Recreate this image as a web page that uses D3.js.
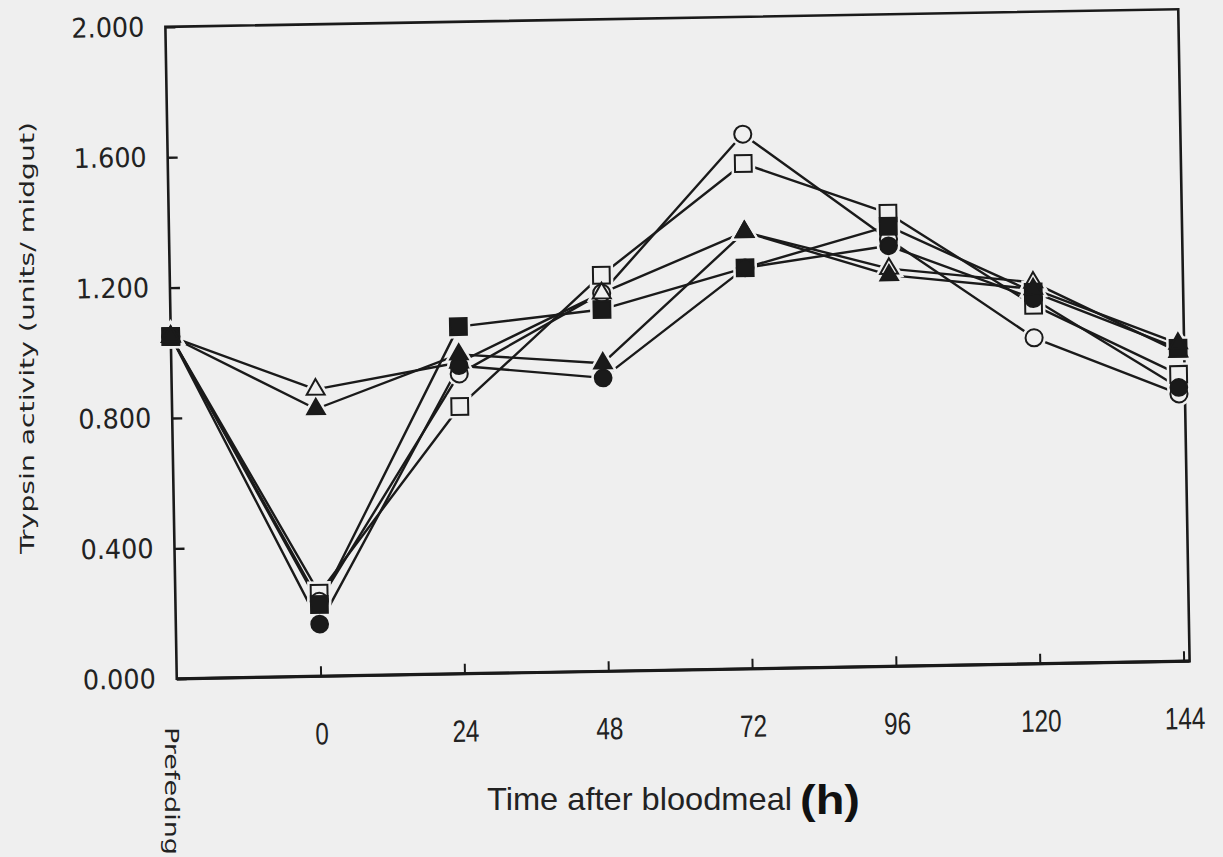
<!DOCTYPE html>
<html><head><meta charset="utf-8">
<script src="https://cdn.jsdelivr.net/npm/d3@7"></script>
<style>
html,body{margin:0;padding:0;background:#efefef;}
svg{display:block}
</style></head><body>
<svg id="chart" width="1223" height="857"></svg>
<script>
// ---- data ----
const hours = [-24, 0, 24, 48, 72, 96, 120, 144]; // -24 = "Prefeding"
const xTickValues = [0, 24, 48, 72, 96, 120, 144];
const yTickValues = [0, 0.4, 0.8, 1.2, 1.6, 2.0];
const prefeedLabel = "Prefeding";

const openSquare     = [1.05, 0.255, 0.82, 1.215, 1.55, 1.39, 1.10, 0.88];
const openCircle     = [1.05, 0.23, 0.92, 1.16, 1.64, 1.31, 1.00, 0.82];
const openTriangle   = [1.05, 0.88, 0.955, 1.16, 1.34, 1.22, 1.17, 0.95];
const filledSquare   = [1.05, 0.22, 1.065, 1.11, 1.23, 1.35, 1.14, 0.96];
const filledCircle   = [1.05, 0.16, 0.945, 0.90, 1.23, 1.29, 1.12, 0.84];
const filledTriangle = [1.05, 0.82, 0.98, 0.945, 1.34, 1.20, 1.15, 0.975];

const series = [
  {values: openSquare, type: d3.symbolSquare, size: 280, filled: false},
  {values: openCircle, type: d3.symbolCircle, size: 230, filled: false},
  {values: openTriangle, type: d3.symbolTriangle, size: 140, filled: false},
  {values: filledSquare, type: d3.symbolSquare, size: 280, filled: true},
  {values: filledCircle, type: d3.symbolCircle, size: 220, filled: true},
  {values: filledTriangle, type: d3.symbolTriangle, size: 135, filled: true}
];

// ---- layout ----
const bg = "#efefef", ink = "#1a1a1a";
const m = {left: 171, right: 1184, top: 18, bottom: 670};
const svg = d3.select("#chart");
svg.append("rect").attr("width", 1223).attr("height", 857).attr("fill", bg);

const x = d3.scaleLinear().domain([-24, 145]).range([m.left, m.right]);
const y = d3.scaleLinear().domain([0, 2]).range([m.bottom, m.top]);

const g = svg.append("g").attr("transform", "rotate(-1,677.5,344)");

// frame
g.append("rect").attr("x", m.left).attr("y", m.top)
  .attr("width", m.right - m.left).attr("height", m.bottom - m.top)
  .attr("fill", "none").attr("stroke", ink).attr("stroke-width", 2.6);
g.append("line").attr("x1", m.left).attr("x2", m.right)
  .attr("y1", m.bottom).attr("y2", m.bottom)
  .attr("stroke", ink).attr("stroke-width", 3.2);

// y axis
const ya = g.append("g").attr("transform", `translate(${m.left},0)`)
  .call(d3.axisLeft(y).tickValues(yTickValues).tickFormat(d3.format(".3f"))
    .tickSizeInner(-10).tickSizeOuter(0).tickPadding(21));
ya.select(".domain").remove();
ya.selectAll(".tick line").attr("stroke", ink).attr("stroke-width", 2.4);
ya.selectAll(".tick text").attr("fill", "#222").attr("font-family", "DejaVu Sans")
  .attr("font-size", 27).attr("textLength", 73).attr("lengthAdjust", "spacingAndGlyphs");

// x axis
const xa = g.append("g").attr("transform", `translate(0,${m.bottom})`)
  .call(d3.axisBottom(x).tickValues(xTickValues).tickFormat(d => d)
    .tickSizeInner(-10).tickSizeOuter(0).tickPadding(46));
xa.select(".domain").remove();
xa.selectAll(".tick line").attr("stroke", ink).attr("stroke-width", 2);
xa.selectAll(".tick text").attr("fill", "#222")
  .attr("font-family", "Liberation Sans Narrow, Liberation Sans, sans-serif")
  .attr("font-size", 31)
  .attr("textLength", d => String(d).length * 13.5)
  .attr("lengthAdjust", "spacingAndGlyphs");

// lines
const line = d3.line().x((d, i) => x(hours[i])).y(d => y(d));
g.append("g").selectAll("path").data(series).join("path")
  .attr("d", s => line(s.values))
  .attr("fill", "none").attr("stroke", ink).attr("stroke-width", 2.4)
  .attr("stroke-linejoin", "round");

// halos (gaps around markers)
const pts = series.flatMap(s => s.values.map((v, i) => ({s, v, t: hours[i]})));
g.append("g").selectAll("path").data(pts).join("path")
  .attr("d", p => d3.symbol().type(p.s.type).size(p.s.size)())
  .attr("transform", p => `translate(${x(p.t)},${y(p.v)})`)
  .attr("fill", bg).attr("stroke", bg).attr("stroke-width", 7);

// markers
g.append("g").selectAll("path").data(pts).join("path")
  .attr("d", p => d3.symbol().type(p.s.type).size(p.s.size)())
  .attr("transform", p => `translate(${x(p.t)},${y(p.v)})`)
  .attr("fill", p => p.s.filled ? ink : bg)
  .attr("stroke", ink).attr("stroke-width", 2);

// axis titles and prefeeding label
svg.append("text")
  .attr("transform", "translate(34,338) rotate(-90)")
  .attr("text-anchor", "middle")
  .attr("font-family", "DejaVu Sans").attr("font-size", 19).attr("fill", "#222")
  .attr("textLength", 432).attr("lengthAdjust", "spacingAndGlyphs")
  .text("Trypsin activity (units/ midgut)");

svg.append("text")
  .attr("transform", "translate(165,727) rotate(90)")
  .attr("text-anchor", "start")
  .attr("font-family", "DejaVu Sans").attr("font-size", 20).attr("fill", "#222")
  .attr("textLength", 128).attr("lengthAdjust", "spacingAndGlyphs")
  .text(prefeedLabel);

svg.append("text")
  .attr("x", 487).attr("y", 810)
  .attr("font-family", "Liberation Sans Narrow, Liberation Sans, sans-serif")
  .attr("font-size", 32).attr("fill", "#222")
  .attr("textLength", 305).attr("lengthAdjust", "spacingAndGlyphs")
  .text("Time after bloodmeal");
svg.append("text")
  .attr("x", 800).attr("y", 814)
  .attr("font-family", "Liberation Sans Narrow, Liberation Sans, sans-serif")
  .attr("font-size", 40).attr("font-weight", "bold").attr("fill", "#111")
  .attr("textLength", 60).attr("lengthAdjust", "spacingAndGlyphs")
  .text("(h)");
</script>
</body></html>
